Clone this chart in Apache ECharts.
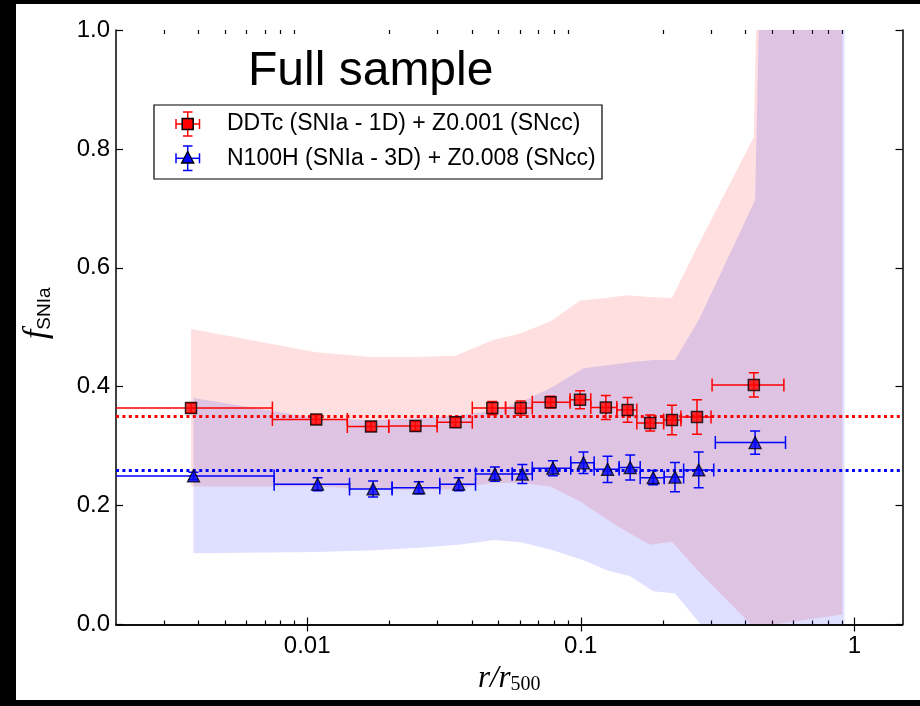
<!DOCTYPE html>
<html>
<head>
<meta charset="utf-8">
<script src="https://cdn.jsdelivr.net/npm/echarts@6/dist/echarts.min.js"></script>
<style>
html,body{margin:0;padding:0;background:#000;}
#bg{position:absolute;left:16px;top:4px;width:904px;height:696px;background:#fff;}
#c{position:absolute;left:0;top:0;width:920px;height:706px;}
</style>
</head>
<body>
<div id="bg"></div>
<div id="c"></div>
<script>
// ---------------- data ----------------
const X_MIN = 0.002, X_MAX = 1.5;
const majorTicks = [0.01, 0.1, 1];
const majorTickLabels = ['0.01', '0.1', '1'];
const minorTicks = [0.003, 0.004, 0.005, 0.006, 0.007, 0.008, 0.009,
                    0.02, 0.03, 0.04, 0.05, 0.06, 0.07, 0.08, 0.09,
                    0.2, 0.3, 0.4, 0.5, 0.6, 0.7, 0.8, 0.9];

// DDTc (SNIa - 1D) + Z0.001 (SNcc)
const redX    = [0.00376, 0.01079, 0.01711, 0.02487, 0.03484, 0.04749, 0.0603, 0.0776, 0.0994, 0.1235, 0.1483, 0.1794, 0.2155, 0.266, 0.4292];
const redY    = [0.364, 0.345, 0.333, 0.334, 0.340, 0.364, 0.364, 0.374, 0.378, 0.365, 0.361, 0.339, 0.344, 0.349, 0.403];
const redYErr = [0.008, 0.008, 0.008, 0.008, 0.008, 0.011, 0.012, 0.010, 0.015, 0.020, 0.021, 0.0135, 0.025, 0.029, 0.0205];
const redXLo  = [0.0015, 0.00746, 0.01402, 0.01986, 0.02985, 0.04013, 0.0531, 0.0665, 0.0914, 0.1088, 0.1355, 0.1603, 0.2009, 0.2324, 0.302];
const redXHi  = [0.00746, 0.01402, 0.01986, 0.02985, 0.04013, 0.0531, 0.0665, 0.0914, 0.1088, 0.1355, 0.1603, 0.2009, 0.2324, 0.2993, 0.5527];
const redMean = 0.35;
const redBandX  = [0.00376, 0.01079, 0.01711, 0.02487, 0.03484, 0.04749, 0.0603, 0.0776, 0.0994, 0.1235, 0.1483, 0.1794, 0.2155, 0.266, 0.4292, 0.904];
const redBandLo = [0.232, 0.232, 0.228, 0.226, 0.228, 0.238, 0.238, 0.232, 0.207, 0.178, 0.155, 0.134, 0.139, 0.092, -0.005, 0.017];
const redBandHi = [0.497, 0.458, 0.450, 0.450, 0.452, 0.478, 0.490, 0.510, 0.545, 0.549, 0.554, 0.551, 0.549, 0.634, 0.820, 8.0];

// N100H (SNIa - 3D) + Z0.008 (SNcc)
const blueX    = [0.00384, 0.01091, 0.01741, 0.02558, 0.0358, 0.04853, 0.06114, 0.0791, 0.1023, 0.1253, 0.1516, 0.1840, 0.2210, 0.2699, 0.4338];
const blueY    = [0.250, 0.236, 0.228, 0.230, 0.236, 0.253, 0.253, 0.263, 0.272, 0.261, 0.264, 0.247, 0.248, 0.260, 0.306];
const blueYErr = [0.006, 0.011, 0.0135, 0.010, 0.011, 0.012, 0.016, 0.0126, 0.018, 0.022, 0.021, 0.012, 0.0247, 0.030, 0.0196];
const blueXLo  = [0.0015, 0.00757, 0.01428, 0.02043, 0.03052, 0.04124, 0.0562, 0.0665, 0.0919, 0.1119, 0.1381, 0.1649, 0.2019, 0.2377, 0.3104];
const blueXHi  = [0.00757, 0.01428, 0.02043, 0.03052, 0.04124, 0.0562, 0.0665, 0.0919, 0.1119, 0.1381, 0.1649, 0.2019, 0.2377, 0.3062, 0.5603];
const blueMean = 0.26;
const blueBandX  = [0.00384, 0.01091, 0.01741, 0.02558, 0.0358, 0.04853, 0.06114, 0.0791, 0.1023, 0.1253, 0.1516, 0.1840, 0.2210, 0.2699, 0.4338, 0.92];
const blueBandLo = [0.120, 0.122, 0.125, 0.129, 0.134, 0.142, 0.138, 0.125, 0.108, 0.091, 0.081, 0.056, 0.052, 0.004, -0.137, -0.09];
const blueBandHi = [0.381, 0.347, 0.344, 0.347, 0.352, 0.360, 0.375, 0.400, 0.431, 0.436, 0.441, 0.445, 0.445, 0.512, 0.714, 8.0];

const redName = 'DDTc (SNIa - 1D) + Z0.001 (SNcc)';
const blueName = 'N100H (SNIa - 3D) + Z0.008 (SNcc)';
const titleText = 'Full sample';

// ---------------- build ----------------
const RED = '#ff0000', BLUE = '#0000ff';
const SANS = '"Liberation Sans", Arial, Helvetica, sans-serif';
const SERIF = '"Liberation Serif", "Times New Roman", serif';

function zip(...arrs) { return arrs[0].map((_, i) => arrs.map(a => a[i])); }

function bandRender(fill) {
  return function (params, api) {
    if (params.dataIndexInside !== 0) return;
    const n = params.dataInsideLength;
    const up = [], lo = [];
    for (let i = 0; i < n; i++) {
      up.push(api.coord([api.value(0, i), api.value(2, i)]));
      lo.push(api.coord([api.value(0, i), api.value(1, i)]));
    }
    const cs = params.coordSys;
    return {
      type: 'group',
      clipPath: { type: 'rect', shape: { x: cs.x, y: cs.y, width: cs.width, height: cs.height } },
      children: [{
        type: 'polygon',
        shape: { points: up.concat(lo.reverse()) },
        style: { fill: fill, stroke: null },
        silent: true
      }]
    };
  };
}

function errRender(color) {
  return function (params, api) {
    const x = api.value(0), y = api.value(1), ye = api.value(2), xl = api.value(3), xh = api.value(4);
    const cs = params.coordSys;
    const p = api.coord([x, y]);
    const pl = api.coord([xl, y]), ph = api.coord([xh, y]);
    const pt = api.coord([x, y + ye]), pb = api.coord([x, y - ye]);
    const left = cs.x, right = cs.x + cs.width;
    const st = { stroke: color, lineWidth: 1.5, fill: null };
    const ch = [];
    const lx = Math.max(pl[0], left), hx = Math.min(ph[0], right);
    ch.push({ type: 'line', shape: { x1: lx, y1: p[1], x2: hx, y2: p[1] }, style: st });
    const capH = 6.5, capW = 5;
    if (pl[0] >= left) ch.push({ type: 'line', shape: { x1: pl[0], y1: p[1] - capH, x2: pl[0], y2: p[1] + capH }, style: st });
    if (ph[0] <= right) ch.push({ type: 'line', shape: { x1: ph[0], y1: p[1] - capH, x2: ph[0], y2: p[1] + capH }, style: st });
    ch.push({ type: 'line', shape: { x1: p[0], y1: pt[1], x2: p[0], y2: pb[1] }, style: st });
    ch.push({ type: 'line', shape: { x1: p[0] - capW, y1: pt[1], x2: p[0] + capW, y2: pt[1] }, style: st });
    ch.push({ type: 'line', shape: { x1: p[0] - capW, y1: pb[1], x2: p[0] + capW, y2: pb[1] }, style: st });
    return { type: 'group', children: ch, silent: true };
  };
}

const G = { left: 116, right: 17.5, top: 30, bottom: 81.5, containLabel: false, outerBoundsMode: 'none' };
const axisLineStyle = { color: '#000', width: 1.5 };
const tickStyle = { color: '#000', width: 1.2 };

function xAxisDef(gridIndex, position, ticks, len, showLine, showLabel) {
  return {
    type: 'log', logBase: 10, min: X_MIN, max: X_MAX, gridIndex: gridIndex, position: position,
    splitLine: { show: false }, minorTick: { show: false },
    axisLine: { show: showLine, lineStyle: axisLineStyle },
    axisTick: { show: true, inside: true, length: len, customValues: ticks, lineStyle: tickStyle },
    axisLabel: showLabel ? {
      show: true, customValues: majorTicks, margin: 10, color: '#000',
      fontFamily: SANS, fontSize: 24,
      formatter: function (v) {
        let best = 0;
        majorTicks.forEach((t, i) => { if (Math.abs(Math.log10(v) - Math.log10(t)) < Math.abs(Math.log10(v) - Math.log10(majorTicks[best]))) best = i; });
        return majorTickLabels[best];
      }
    } : { show: false },
    name: showLabel ? '{r|r}{r|/}{r|r}{s|500}' : '',
    nameLocation: 'middle', nameGap: 34,
    nameTextStyle: {
      rich: {
        r: { fontFamily: SERIF, fontStyle: 'italic', fontSize: 31, color: '#000', lineHeight: 36, verticalAlign: 'bottom' },
        s: { fontFamily: SERIF, fontSize: 20, color: '#000', lineHeight: 36, verticalAlign: 'bottom' }
      }
    }
  };
}

const option = {
  animation: false,
  backgroundColor: 'transparent',
  grid: [Object.assign({}, G), Object.assign({}, G)],
  xAxis: [
    xAxisDef(0, 'bottom', majorTicks, 7, true, true),
    xAxisDef(0, 'top', majorTicks, 7, true, false),
    xAxisDef(1, 'bottom', minorTicks, 4, false, false),
    xAxisDef(1, 'top', minorTicks, 4, false, false)
  ],
  yAxis: [
    {
      type: 'value', gridIndex: 0, position: 'left', min: 0, max: 1, interval: 0.2,
      splitLine: { show: false },
      axisLine: { show: true, lineStyle: axisLineStyle },
      axisTick: { show: true, inside: true, length: 7, lineStyle: tickStyle },
      axisLabel: { show: true, margin: 6, color: '#000', fontFamily: SANS, fontSize: 24, formatter: v => v.toFixed(1) },
      name: '{f|f}{s|SNIa}', nameLocation: 'middle', nameGap: 62, nameRotate: 90,
      nameTextStyle: {
        padding: [0, 0, 0, 28],
        rich: {
          f: { fontFamily: SERIF, fontStyle: 'italic', fontSize: 34, color: '#000', lineHeight: 40, verticalAlign: 'bottom' },
          s: { fontFamily: SANS, fontSize: 19, color: '#000', lineHeight: 40, verticalAlign: 'bottom' }
        }
      }
    },
    {
      type: 'value', gridIndex: 0, position: 'right', min: 0, max: 1, interval: 0.2,
      splitLine: { show: false },
      axisLine: { show: true, lineStyle: axisLineStyle },
      axisTick: { show: true, inside: true, length: 7, lineStyle: tickStyle },
      axisLabel: { show: false }
    },
    {
      type: 'value', gridIndex: 1, min: 0, max: 1, show: false
    }
  ],
  series: [
    {
      name: 'redBand', type: 'custom', xAxisIndex: 0, yAxisIndex: 0, z: 1, clip: true,
      renderItem: bandRender('rgba(255,0,0,0.125)'),
      data: zip(redBandX, redBandLo, redBandHi), silent: true
    },
    {
      name: 'blueBand', type: 'custom', xAxisIndex: 0, yAxisIndex: 0, z: 1, clip: true,
      renderItem: bandRender('rgba(0,0,255,0.125)'),
      data: zip(blueBandX, blueBandLo, blueBandHi), silent: true
    },
    {
      name: 'means', type: 'line', xAxisIndex: 0, yAxisIndex: 0, z: 2, data: [],
      markLine: {
        silent: true, symbol: 'none', animation: false,
        label: { show: false },
        data: [
          { yAxis: redMean, lineStyle: { color: RED, width: 3, type: [3, 3.4] } },
          { yAxis: blueMean, lineStyle: { color: BLUE, width: 3, type: [3, 3.4] } }
        ]
      }
    },
    {
      name: 'redErr', type: 'custom', xAxisIndex: 0, yAxisIndex: 0, z: 3, clip: true,
      renderItem: errRender(RED),
      data: zip(redX, redY, redYErr, redXLo, redXHi), silent: true
    },
    {
      name: 'blueErr', type: 'custom', xAxisIndex: 0, yAxisIndex: 0, z: 3, clip: true,
      renderItem: errRender(BLUE),
      data: zip(blueX, blueY, blueYErr, blueXLo, blueXHi), silent: true
    },
    {
      name: redName, type: 'scatter', xAxisIndex: 0, yAxisIndex: 0, z: 5,
      symbol: 'rect', symbolSize: 11,
      itemStyle: { color: RED, borderColor: '#000', borderWidth: 1.5 },
      data: zip(redX, redY), silent: true
    },
    {
      name: blueName, type: 'scatter', xAxisIndex: 0, yAxisIndex: 0, z: 5,
      symbol: 'triangle', symbolSize: 12,
      itemStyle: { color: BLUE, borderColor: '#000', borderWidth: 1.3 },
      data: zip(blueX, blueY), silent: true
    }
  ],
  graphic: [
    {
      type: 'text', silent: true, z: 10,
      x: 248, y: 72,
      style: { text: titleText, font: '48px ' + SANS, fill: '#000', textAlign: 'left', textVerticalAlign: 'middle' }
    },
    {
      type: 'group', silent: true, z: 10,
      children: [
        { type: 'rect', shape: { x: 154, y: 105, width: 448, height: 74 }, style: { fill: '#fff', stroke: '#000', lineWidth: 1.2 } },
        // red legend symbol
        { type: 'line', shape: { x1: 176, y1: 124, x2: 199.5, y2: 124 }, style: { stroke: RED, lineWidth: 1.5 } },
        { type: 'line', shape: { x1: 176, y1: 119, x2: 176, y2: 129 }, style: { stroke: RED, lineWidth: 1.5 } },
        { type: 'line', shape: { x1: 199.5, y1: 119, x2: 199.5, y2: 129 }, style: { stroke: RED, lineWidth: 1.5 } },
        { type: 'line', shape: { x1: 187.7, y1: 112, x2: 187.7, y2: 136 }, style: { stroke: RED, lineWidth: 1.5 } },
        { type: 'line', shape: { x1: 183, y1: 112, x2: 192.5, y2: 112 }, style: { stroke: RED, lineWidth: 1.5 } },
        { type: 'line', shape: { x1: 183, y1: 136, x2: 192.5, y2: 136 }, style: { stroke: RED, lineWidth: 1.5 } },
        { type: 'rect', shape: { x: 182.2, y: 118.5, width: 11, height: 11 }, style: { fill: RED, stroke: '#000', lineWidth: 1.5 } },
        { type: 'text', x: 227, y: 124, style: { text: redName, font: '23px ' + SANS, fill: '#000', textVerticalAlign: 'middle' } },
        // blue legend symbol
        { type: 'line', shape: { x1: 176, y1: 158.3, x2: 199.5, y2: 158.3 }, style: { stroke: BLUE, lineWidth: 1.5 } },
        { type: 'line', shape: { x1: 176, y1: 153.3, x2: 176, y2: 163.3 }, style: { stroke: BLUE, lineWidth: 1.5 } },
        { type: 'line', shape: { x1: 199.5, y1: 153.3, x2: 199.5, y2: 163.3 }, style: { stroke: BLUE, lineWidth: 1.5 } },
        { type: 'line', shape: { x1: 187.7, y1: 146, x2: 187.7, y2: 170.5 }, style: { stroke: BLUE, lineWidth: 1.5 } },
        { type: 'line', shape: { x1: 183, y1: 146, x2: 192.5, y2: 146 }, style: { stroke: BLUE, lineWidth: 1.5 } },
        { type: 'line', shape: { x1: 183, y1: 170.5, x2: 192.5, y2: 170.5 }, style: { stroke: BLUE, lineWidth: 1.5 } },
        { type: 'polygon', shape: { points: [[187.7, 151.5], [193.8, 163], [181.6, 163]] }, style: { fill: BLUE, stroke: '#000', lineWidth: 1.3 } },
        { type: 'text', x: 227, y: 158.3, style: { text: blueName, font: '23px ' + SANS, fill: '#000', textVerticalAlign: 'middle' } }
      ]
    }
  ]
};

const chart = echarts.init(document.getElementById('c'), null, { renderer: 'canvas', width: 920, height: 706 });
chart.setOption(option);
</script>
</body>
</html>
